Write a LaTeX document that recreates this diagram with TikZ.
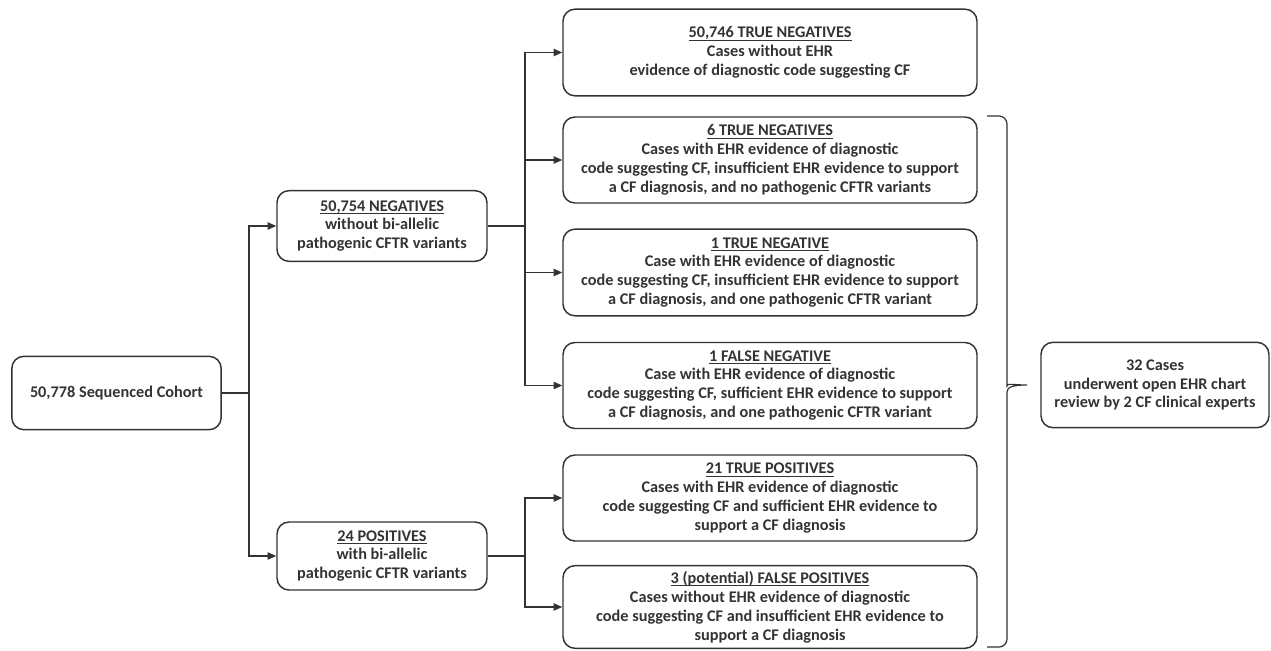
\documentclass[tikz,border=0pt]{standalone}
\usepackage{fontspec}
\setmainfont{Carlito}
\usetikzlibrary{arrows.meta}
\definecolor{ink}{HTML}{333333}
\newcommand\headul[1]{\sbox0{#1}\rlap{\usebox0}\rule[-2.2pt]{\wd0}{0.7pt}}
\begin{document}
\begin{tikzpicture}[
    x=0.75pt, y=-0.75pt,
    box/.style={draw=ink, line width=1.1pt, rounded corners=9pt, inner sep=2pt,
                minimum width=#1, font=\fontsize{12.2}{14.2}\selectfont\bfseries,
                text=ink, align=center},
    box/.default={157pt},
    arrow/.style={->, draw=ink, line width=1pt, >={Triangle[length=6.5pt,width=5.5pt]}},
    link/.style={draw=ink, line width=1pt},
  ]
    \useasboundingbox (0,0) rectangle (1271,650);

    % left column
    \node[box, minimum height=55pt] (cohort) at (116.5,393) {50,778 Sequenced Cohort};
    \node[box, minimum width=157.5pt, minimum height=53pt] (neg) at (382,226)
      {\headul{50,754 NEGATIVES}\\without bi-allelic\\pathogenic CFTR variants};
    \node[box, minimum width=157.5pt, minimum height=51pt] (pos) at (382,556)
      {\headul{24 POSITIVES}\\with bi-allelic\\pathogenic CFTR variants};

    % outcome boxes
    \node[box=310.5pt, minimum height=65pt] (tn1) at (770,52.5)
      {\headul{50,746 TRUE NEGATIVES}\\Cases without EHR\\evidence of diagnostic code suggesting CF};
    \node[box=310.5pt, minimum height=64.5pt] (tn6) at (770,160)
      {\headul{6 TRUE NEGATIVES}\\Cases with EHR evidence of diagnostic\\code suggesting CF, insufficient EHR evidence to support\\a CF diagnosis, and no pathogenic CFTR variants};
    \node[box=310.5pt, minimum height=65pt] (tnone) at (770,272.5)
      {\headul{1 TRUE NEGATIVE}\\Case with EHR evidence of diagnostic\\code suggesting CF, insufficient EHR evidence to support\\a CF diagnosis, and one pathogenic CFTR variant};
    \node[box=310.5pt, minimum height=64.5pt] (fnone) at (770,385.5)
      {\headul{1 FALSE NEGATIVE}\\Case with EHR evidence of diagnostic\\code suggesting CF, sufficient EHR evidence to support\\a CF diagnosis, and one pathogenic CFTR variant};
    \node[box=310.5pt, minimum height=64.5pt] (tp21) at (770,498)
      {\headul{21 TRUE POSITIVES}\\Cases with EHR evidence of diagnostic\\code suggesting CF and sufficient EHR evidence to\\support a CF diagnosis};
    \node[box=310.5pt, minimum height=62pt] (fp3) at (770,607)
      {\headul{3 (potential) FALSE POSITIVES}\\Cases without EHR evidence of diagnostic\\code suggesting CF and insufficient EHR evidence to\\support a CF diagnosis};

    % chart review
    \node[box=171pt, minimum height=64pt] (review) at (1155,385)
      {32 Cases\\underwent open EHR chart\\review by 2 CF clinical experts};

    % junctions
    \coordinate (cj) at (249,393);
    \coordinate (nj) at (525,226);
    \coordinate (pj) at (525,556);

    % connectors
    \draw[link] (cohort) -- (cj);
    \draw[arrow] (cj) |- (neg);
    \draw[arrow] (cj) |- (pos);
    \draw[link] (neg) -- (nj);
    \foreach \t in {tn1, tn6, tnone, fnone}
      \draw[arrow] (nj) |- (\t);
    \draw[link] (pos) -- (pj);
    \foreach \t in {tp21, fp3}
      \draw[arrow] (pj) |- (\t);

    % brace
    \draw[link, line width=0.9pt] (987,116) [rounded corners=6pt] -- (1007,116) -- (1007,378)
      [sharp corners] .. controls (1007,383) and (1013,385) .. (1027,385)
      .. controls (1013,385) and (1007,387) .. (1007,392)
      [rounded corners=6pt] -- (1007,647) -- (987,647);
  \end{tikzpicture}
\end{document}
